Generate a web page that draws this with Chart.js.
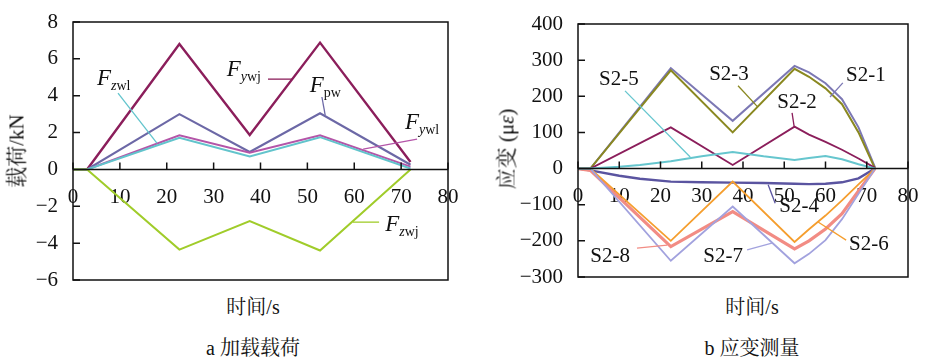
<!DOCTYPE html>
<html>
<head>
<meta charset="utf-8">
<script src="https://cdn.jsdelivr.net/npm/chart.js@4.4.0/dist/chart.umd.min.js"></script>
<style>
  body { margin: 0; background: #fff; width: 925px; height: 359px; position: relative; overflow: hidden;
         font-family: "Liberation Serif", "Noto Serif CJK SC", "Noto Sans CJK SC", serif; color: #111; }
  .box { position: absolute; top: 0; height: 290px; }
  #boxA { left: 0; width: 462px; }
  #boxB { left: 462px; width: 463px; }
  .txt { position: absolute; white-space: nowrap; font-size: 20px; line-height: 1; transform: translate(-50%, -50%); }
  .ytitle { font-size: 21px; transform: translate(-50%, -50%) rotate(-90deg); }
</style>
</head>
<body>
<div class="box" id="boxA"><canvas id="loadChart"></canvas></div>
<div class="box" id="boxB"><canvas id="strainChart"></canvas></div>

<div class="txt ytitle" style="left:17px;top:151px">载荷/kN</div>
<div class="txt ytitle" style="left:507px;top:149px">应变 (μ<i>ε</i>)</div>
<div class="txt" style="left:253px;top:307px">时间/s</div>
<div class="txt" style="left:752px;top:307px">时间/s</div>
<div class="txt" style="left:253px;top:348px">a 加载载荷</div>
<div class="txt" style="left:752px;top:348px">b 应变测量</div>

<script>
// ---- a: loads (kN) ----
const loadTime = [0, 3, 22.7, 37.7, 52.7, 72];
const fYwj = [0, 0, 6.8, 1.87, 6.88, 0.4];
const fPw = [0, 0, 3.0, 0.95, 3.05, 0.25];
const fYwl = [0, 0, 1.85, 0.9, 1.85, 0.15];
const fZwl = [0, 0, 1.72, 0.7, 1.75, 0.05];
const fZwj = [0, 0, -4.35, -2.8, -4.4, 0];
const loadTicks = [-6, -4, -2, 0, 2, 4, 6, 8];

// ---- b: strains (micro strain) ----
const strainTime = [0, 3, 22.5, 37.5, 52.5, 56, 60, 64, 68, 72];
const s21 = [0, 0, 278, 132, 284, 266, 236, 192, 114, 3];
const s22 = [0, 0, 114, 10, 116, 94, 74, 52, 28, 2];
const s23 = [0, 0, 272, 100, 276, 254, 222, 178, 100, 0];
const s26 = [0, 0, -200, -36, -203, -168, -130, -88, -44, 0];
const s27 = [0, 0, -255, -105, -262, -236, -198, -140, -70, 0];
const s28 = [0, -5, -216, -119, -222, -200, -167, -125, -62, 0];
const noisyTime = [0, 3, 10, 15, 22.5, 30, 37.5, 45, 52.5, 56, 60, 64, 68, 72];
const s24 = [0, -5, -20, -28, -36, -38, -39, -40, -42, -43, -42, -38, -27, 0];
const s25 = [0, 0, 5, 10, 20, 34, 46, 34, 24, 29, 35, 26, 12, 0];
const timeTicks = [0, 10, 20, 30, 40, 50, 60, 70, 80];
const strainTicks = [-300, -200, -100, 0, 100, 200, 300, 400];

const pts = (xs, ys) => ys.map((v, i) => ({ x: xs[i], y: v }));
const line = (xs, ys, color, width) => ({
  data: pts(xs, ys), borderColor: color, borderWidth: width || 2,
  pointRadius: 0, tension: 0, fill: false,
});

// callouts: text position and leader line in data units
const loadNotes = [
  { sub: [['z', true], ['wl', false]], at: [5.1, 4.6], lead: [[9.6, 4.14], [17.9, 1.43]], color: '#62c4cc' },
  { sub: [['y', true], ['wj', false]], at: [32.8, 5.07], lead: [[41.6, 4.9], [46.9, 4.9]], color: '#8b1e5b' },
  { sub: [['pw', false]], at: [50.5, 4.2], lead: [[53.1, 3.93], [53.8, 2.95]], color: '#6c68a6' },
  { sub: [['y', true], ['wl', false]], at: [70.8, 2.2], lead: [[73.4, 1.64], [61.9, 1.1]], color: '#b455a8' },
  { sub: [['z', true], ['wj', false]], at: [66.6, -3.32], lead: [[65.3, -2.86], [59.7, -2.86]], color: '#a0cc2a' },
];
const strainNotes = [
  { text: 'S2-5', at: [9.9, 232], lead: [[11.4, 215], [27.2, 32]], color: '#66c6ce' },
  { text: 'S2-3', at: [36.6, 245], lead: [[38.8, 229], [43.6, 170]], color: '#8a8820' },
  { text: 'S2-1', at: [69.8, 243], lead: [[64.2, 237], [61.1, 198]], color: '#7c78b4' },
  { text: 'S2-2', at: [53.1, 168], lead: [[51.9, 154], [52.4, 116]], color: '#8b1e5b' },
  { text: 'S2-4', at: [53.6, -120], lead: [[47.8, -96], [46.1, -45]], color: '#5a54a0' },
  { text: 'S2-6', at: [70.5, -225], lead: [[65.0, -198], [58.2, -148]], color: '#f59e2e' },
  { text: 'S2-7', at: [35.2, -259], lead: [[41.0, -225], [47.0, -206]], color: '#a2a2de' },
  { text: 'S2-8', at: [7.8, -259], lead: [[14.3, -220], [21.6, -212]], color: '#f28c84' },
];

const serif = '"Liberation Serif", serif';
Chart.defaults.font.family = serif;

const framePlugin = {
  id: 'frame',
  afterDatasetsDraw(chart, args, opts) {
    const { ctx, chartArea: a, scales: { x, y } } = chart;
    ctx.save();
    ctx.strokeStyle = '#111';
    ctx.lineWidth = 1.5;
    ctx.strokeRect(a.left, a.top, a.right - a.left, a.bottom - a.top);
    const y0 = y.getPixelForValue(0);
    ctx.beginPath();
    ctx.moveTo(a.left, y0);
    ctx.lineTo(a.right, y0);
    x.ticks.forEach(t => {
      const px = x.getPixelForValue(t.value);
      ctx.moveTo(px, y0);
      ctx.lineTo(px, y0 - 7);
    });
    y.ticks.forEach(t => {
      const py = y.getPixelForValue(t.value);
      ctx.moveTo(a.left, py);
      ctx.lineTo(a.left + 7, py);
    });
    ctx.stroke();

    // callouts
    (opts.notes || []).forEach(n => {
      ctx.strokeStyle = n.color;
      ctx.lineWidth = 1.3;
      ctx.beginPath();
      ctx.moveTo(x.getPixelForValue(n.lead[0][0]), y.getPixelForValue(n.lead[0][1]));
      ctx.lineTo(x.getPixelForValue(n.lead[1][0]), y.getPixelForValue(n.lead[1][1]));
      ctx.stroke();
      const tx = x.getPixelForValue(n.at[0]);
      const ty = y.getPixelForValue(n.at[1]);
      ctx.fillStyle = '#111';
      ctx.textBaseline = 'alphabetic';
      if (n.text) {
        ctx.font = '21px ' + serif;
        ctx.textAlign = 'center';
        ctx.fillText(n.text, tx, ty);
      } else {
        ctx.textAlign = 'left';
        ctx.font = 'italic 23px ' + serif;
        ctx.fillText('F', tx, ty);
        let cx = tx + ctx.measureText('F').width;
        n.sub.forEach(([s, it]) => {
          ctx.font = (it ? 'italic ' : '') + '14px ' + serif;
          ctx.fillText(s, cx, ty + 5);
          cx += ctx.measureText(s).width;
        });
      }
    });
    ctx.restore();
  },
};

function makeChart(id, datasets, yMin, yMax, yTicks, axisWidth, padding, notes) {
  return new Chart(document.getElementById(id), {
    type: 'line',
    data: { datasets },
    options: {
      responsive: true,
      maintainAspectRatio: false,
      animation: false,
      layout: { padding },
      plugins: { legend: { display: false }, tooltip: { enabled: false }, frame: { notes } },
      scales: {
        x: {
          type: 'linear', min: 0, max: 80, position: { y: 0 },
          afterBuildTicks: s => { s.ticks = timeTicks.map(v => ({ value: v })); },
          afterFit: s => { s.paddingLeft = 0; s.paddingRight = 0; s.paddingTop = 0; s.paddingBottom = 0; },
          grid: { display: false }, border: { display: false },
          ticks: { color: '#111', padding: 7, maxRotation: 0, font: { family: serif, size: 21 } },
        },
        y: {
          type: 'linear', min: yMin, max: yMax, position: 'left',
          afterBuildTicks: s => { s.ticks = yTicks.map(v => ({ value: v })); },
          afterFit: s => { s.width = axisWidth; s.paddingTop = 0; s.paddingBottom = 0; },
          grid: { display: false }, border: { display: false },
          ticks: { color: '#111', padding: 7, font: { family: serif, size: 21 },
                   callback: v => (v < 0 ? '\u2212' + Math.abs(v) : String(v)) },
        },
      },
    },
    plugins: [framePlugin],
  });
}

document.fonts.load('21px "Liberation Serif"').finally(() => {
  makeChart('loadChart', [
    line(loadTime, fZwj, '#a0cc2a', 2),
    line(loadTime, fZwl, '#62c4cc', 2),
    line(loadTime, fYwl, '#b455a8', 2),
    line(loadTime, fPw, '#6c68a6', 2.2),
    line(loadTime, fYwj, '#8b1e5b', 2.4),
  ], -6, 8, loadTicks, 73, { left: 0, top: 22, right: 14, bottom: 10 }, loadNotes);

  makeChart('strainChart', [
    line(noisyTime, s25, '#66c6ce', 2),
    line(strainTime, s22, '#8b1e5b', 1.8),
    line(strainTime, s23, '#8a8820', 2),
    line(strainTime, s21, '#7c78b4', 2),
    line(strainTime, s27, '#a2a2de', 1.8),
    line(strainTime, s26, '#f59e2e', 1.8),
    line(strainTime, s28, '#f28c84', 3.2),
    line(noisyTime, s24, '#5a54a0', 2.4),
  ], -300, 400, strainTicks, 116, { left: 0, top: 24, right: 17, bottom: 13 }, strainNotes);
});
</script>
</body>
</html>
